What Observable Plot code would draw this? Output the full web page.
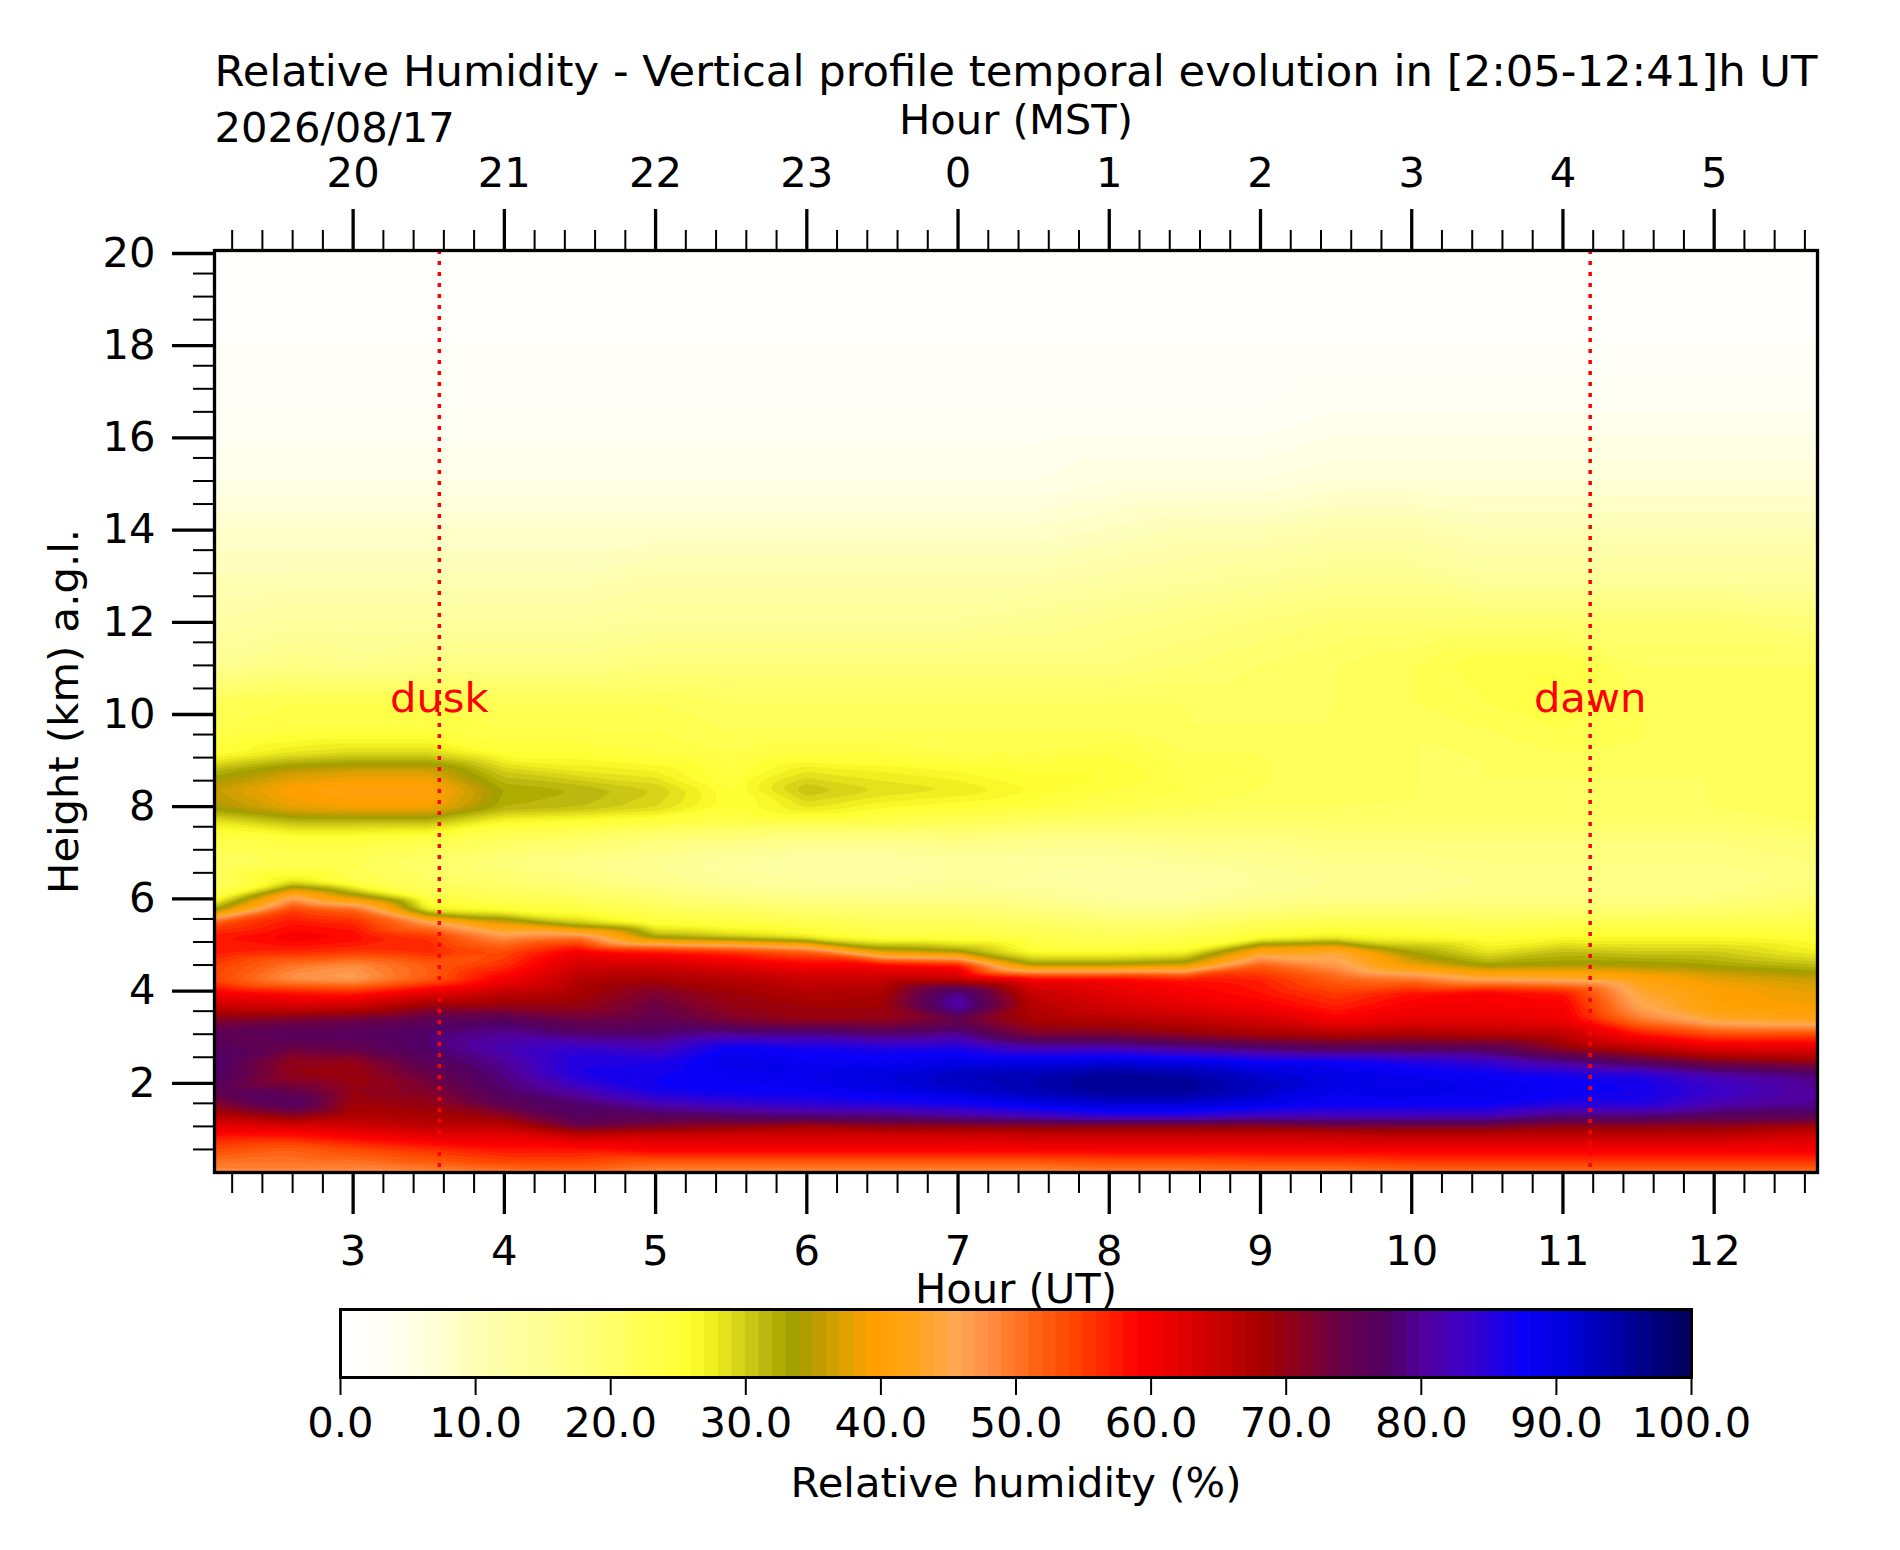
<!DOCTYPE html>
<html>
<head>
<meta charset="utf-8">
<script src="https://cdn.jsdelivr.net/npm/d3@7"></script>
<script src="https://cdn.jsdelivr.net/npm/@observablehq/plot@0.6"></script>
<style>
  body { margin: 0; background: #ffffff; }
  #chart { position: relative; width: 1900px; height: 1550px; background: #ffffff; }
  #chart svg { position: absolute; left: 0; }
</style>
</head>
<body>
<div id="chart"></div>
<script>
// ---------------- DATA ----------------
const chartTitle = "Relative Humidity - Vertical profile temporal evolution in [2:05-12:41]h UT";
const chartDate = "2026/08/17";
const xLabelBottom = "Hour (UT)";
const xLabelTop = "Hour (MST)";
const yLabel = "Height (km) a.g.l.";
const colorLabel = "Relative humidity (%)";

// time axis (UT hours) of the sampled profiles
const hoursUT = [2.0833, 2.6, 3.0, 3.5, 4.0, 4.5, 5.0, 5.5, 6.0, 6.5, 7.0, 7.5, 8.0, 8.5, 9.0, 9.5, 10.0, 10.5, 11.0, 11.5, 12.0, 12.6833];
// heights (km a.g.l.) of the sampled levels
const heightsKm = [0, 0.2, 0.5, 0.8, 1.0, 1.2, 1.5, 1.8, 2.1, 2.4, 2.7, 3.0, 3.3, 3.6, 3.9, 4.2, 4.5, 4.8, 5.1, 5.4, 5.7, 6.0, 6.3, 6.7, 7.2, 7.6, 7.9, 8.3, 8.7, 9.1, 9.6, 10.2, 11, 12, 13, 14, 15, 16.5, 18, 20];
// relative humidity (%), one row per height, one value per UT hour above
const rhRows = [
  "48 48 48 48 49 50 48 48 48 48 48 48 49 49 49 49 50 50 50 50 50 50",
  "50 50 50 52 54 54 52 52 52 52 52 52 53 53 54 54 55 55 55 55 55 55",
  "54 52 54 56 58 58 60 60 60 60 60 60 60 60 60 60 60 60 60 60 60 60",
  "58 58 60 62 62 65 64 64 64 64 64 65 65 65 65 65 66 66 66 66 66 64",
  "62 63 64 66 66 74 72 70 68 70 70 70 70 70 70 72 72 72 70 70 70 68",
  "66 70 67 68 70 77 76 77 78 78 80 82 84 84 82 82 82 82 78 78 76 76",
  "72 78 69 70 76 78 82 84 85 86 87 90 92 92 90 88 88 88 86 86 82 80",
  "76 74 70 72 78 82 87 88 88 90 92 94 96 96 93 89 90 89 88 87 84 80",
  "78 70 69 74 79 86 87 88 89 91 93 94 96 95 92 90 89 88 87 86 82 79",
  "78 70 70 76 80 86 86 90 88 88 90 90 91 90 88 88 86 84 80 76 72 70",
  "77 74 75 78 82 84 82 88 87 86 86 82 82 80 78 76 76 76 70 66 62 62",
  "76 77 77 78 80 78 78 80 80 78 80 72 72 70 68 67 68 67 66 58 54 54",
  "72 73 74 76 77 74 75 72 70 70 74 68 67 66 64 60 62 62 61 50 44 42",
  "65 64 65 70 70 70 74 70 69 69 82 67 64 62 60 57 60 60 60 46 40 39",
  "60 58 57 62 66 68 72 69 67 68 80 65 62 60 58 55 58 60 58 44 40 38",
  "54 47 46 52 60 67 68 67 65 65 65 60 60 58 57 52 50 45 44 41 38 36",
  "55 50 48 52 56 64 64 62 60 60 58 34 34 36 52 47 38 33 34 34 33 31",
  "58 57 56 57 54 60 58 56 52 36 33 25 25 26 42 44 33 28 31 30 30 27",
  "58 60 59 56 48 50 33 30 27 24 24 23 22 23 25 27 26 25 26 26 26 25",
  "54 58 57 48 38 30 25 24 23 22 22 21 20 20 22 23 23 22 23 23 23 23",
  "33 55 52 27 25 24 22 21 20 19 19 18 16 16 18 19 19 19 19 19 20 21",
  "23 45 35 23 22 21 19 17 16 16 16 15 13 13 15 16 16 17 17 17 17 19",
  "21 28 23 21 20 18 16 14 13 13 14 13 12 12 14 15 15 16 16 16 16 18",
  "21 22 22 20 18 16 15 13 12 12 13 13 13 14 15 16 16 17 17 17 17 18",
  "23 24 24 23 21 20 18 17 16 16 17 16 16 17 17 18 18 18 18 18 18 19",
  "28 31 31 31 26 25 24 23 23 23 22 21 20 20 20 20 20 20 20 20 20 21",
  "34 38 39 39 32 31 29 25 28 26 25 24 23 22 21 21 21 21 21 21 21 22",
  "36 40 41 41 33 32 30 25 31 29 28 26 24 23 22 22 21 21 21 21 21 22",
  "32 36 37 37 30 28 27 24 28 27 26 25 25 23 22 22 21 21 21 21 21 22",
  "25 28 29 29 25 25 24 23 24 24 23 23 24 22 22 22 21 21 22 22 22 22",
  "23 24 24 24 23 23 23 22 22 22 22 22 22 21 21 21 21 22 23 22 22 22",
  "22 23 23 23 22 22 22 21 21 21 21 21 21 21 21 21 22 23 24 22 22 22",
  "15 17 16 17 17 17 18 18 18 18 18 18 18 19 20 21 22 24 24 21 21 21",
  "12 13 13 13 13 13 14 14 14 14 14 15 16 17 18 19 19 19 19 19 19 18",
  "10 10 10 10 10 10 11 11 11 11 11 11 12 13 14 15 15 13 13 13 13 13",
  "8 8 8 8 8 8 8 8 8 8 8 8 9 10 10 11 11 10 10 10 10 10",
  "5 5 5 5 5 5 5 5 5 5 5 5 6 6 6 7 7 7 7 7 7 7",
  "3 3 3 3 3 3 3 3 3 3 3 3 3 3 3 4 4 4 4 4 4 4",
  "2 2 2 2 2 2 2 2 2 2 2 2 2 2 2 2 2 2 2 2 2 2",
  "1 1 1 1 1 1 1 1 1 1 1 1 1 1 1 1 1 1 1 1 1 1"
];

// dusk / dawn markers (UT hours)
const eventNames = ["dusk", "dawn"];
const eventHours = [3.57, 11.18];

// axis ticks
const xMajorTicks = [3, 4, 5, 6, 7, 8, 9, 10, 11, 12];
const yMajorTicks = [2, 4, 6, 8, 10, 12, 14, 16, 18, 20];
const colorTicks = [0, 10, 20, 30, 40, 50, 60, 70, 80, 90, 100];
const utToMstOffset = -7;

// colour map (value -> colour)
const cmapStops = [0, 3, 6, 10, 15, 20, 25, 27, 29, 31, 32, 33, 34, 35, 36, 37, 38, 39, 42, 45, 47, 49, 51, 54, 57, 58.5, 62, 65, 68, 71, 74, 77, 80, 83, 87, 90, 94, 97, 100];
const cmapColors = ["#ffffff", "#fffff4", "#ffffdc", "#ffffb2", "#ffff90", "#ffff66", "#ffff33", "#f0f020", "#d8d418", "#bcb810", "#b0ac00", "#a0a000", "#b09c00", "#c09c00", "#d0a000", "#e0a000", "#f0a000", "#ffa000", "#ffa418", "#ffa850", "#ff9448", "#ff7c2c", "#ff6414", "#ff4400", "#ff1800", "#ff0000", "#e00000", "#c40000", "#a40000", "#840028", "#64004c", "#520064", "#5000a0", "#3a00c8", "#0a00f8", "#0000e0", "#0000a8", "#00007a", "#000055"];

// ---------------- BUILD ----------------
const FONT = "DejaVu Sans";
const FS = 41.7;
const FS_TITLE = 43.3;

const samples = [];
heightsKm.forEach((h, i) => {
  const vals = rhRows[i].trim().split(/\s+/).map(Number);
  hoursUT.forEach((t, j) => samples.push({t, h, rh: vals[j]}));
});
const events = eventNames.map((name, i) => ({name, t: eventHours[i]}));

const levels = d3.range(0, 100, 1);
const xMinorTicks = d3.range(11, 64).filter(k => k % 5 !== 0).map(k => k / 5);
const yMinorTicks = d3.range(1, 40).filter(k => k % 4 !== 0).map(k => k / 2);

const colorScale = {type: "linear", domain: cmapStops, range: cmapColors, interpolate: "rgb"};

const baseStyle = {fontFamily: FONT, fontSize: FS + "px", background: "transparent", color: "black", overflow: "visible"};

const main = Plot.plot({
  width: 1900,
  height: 1550,
  marginTop: 250,
  marginLeft: 214,
  marginRight: 83,
  marginBottom: 378,
  style: baseStyle,
  x: {domain: [2.0833, 12.6833]},
  y: {domain: [0, 20]},
  color: colorScale,
  marks: [
    Plot.contour(samples, {x: "t", y: "h", fill: "rh", interpolate: "barycentric", thresholds: levels, pixelSize: 2, blur: 1, stroke: "none"}),
    Plot.text(events, {x: "t", y: () => 10, text: "name", fill: "red", fontSize: FS, lineAnchor: "bottom", textAnchor: "middle"}),
    Plot.ruleX(events, {x: "t", stroke: "red", strokeWidth: 3.5, strokeDasharray: "4,7"}),
    Plot.frame({stroke: "black", strokeWidth: 3.3}),
    Plot.axisX(xMajorTicks, {anchor: "bottom", tickSize: 42, tickPadding: 21, strokeWidth: 3.3, fontSize: FS, label: null, tickFormat: d => String(d)}),
    Plot.axisX(xMinorTicks, {anchor: "bottom", tickSize: 21, strokeWidth: 2, tickFormat: () => "", label: null}),
    Plot.axisX(xMajorTicks, {anchor: "top", tickSize: 42, tickPadding: 22, strokeWidth: 3.3, fontSize: FS, label: null, tickFormat: d => String((d + utToMstOffset + 24) % 24)}),
    Plot.axisX(xMinorTicks, {anchor: "top", tickSize: 21, strokeWidth: 2, tickFormat: () => "", label: null}),
    Plot.axisY(yMajorTicks, {anchor: "left", tickSize: 42, tickPadding: 17, strokeWidth: 3.3, fontSize: FS, label: null, dy: 3, tickFormat: d => String(d)}),
    Plot.axisY(yMinorTicks, {anchor: "left", tickSize: 21, strokeWidth: 2, tickFormat: () => "", label: null}),
    Plot.text([chartTitle], {frameAnchor: "top", dy: -165, lineAnchor: "bottom", fontSize: FS_TITLE}),
    Plot.text([chartDate], {frameAnchor: "top-left", textAnchor: "start", dy: -109, lineAnchor: "bottom", fontSize: FS}),
    Plot.text([xLabelTop], {frameAnchor: "top", dy: -117, lineAnchor: "bottom", fontSize: FS}),
    Plot.text([xLabelBottom], {frameAnchor: "bottom", dy: 130, lineAnchor: "bottom", fontSize: FS}),
    Plot.text([yLabel], {frameAnchor: "left", dx: -137, rotate: -90, lineAnchor: "bottom", textAnchor: "middle", fontSize: FS})
  ]
});
main.style.top = "0px";

const cbar = Plot.plot({
  width: 1900,
  height: 260,
  marginTop: 19,
  marginBottom: 173,
  marginLeft: 340,
  marginRight: 209,
  style: baseStyle,
  x: {domain: [0, 100]},
  color: colorScale,
  marks: [
    Plot.rect(levels, {x1: d => d, x2: d => d + 1, fill: d => d, stroke: d => d, strokeWidth: 0.8}),
    Plot.frame({stroke: "black", strokeWidth: 3}),
    Plot.axisX(colorTicks, {anchor: "bottom", tickSize: 18, tickPadding: 12, strokeWidth: 2, fontSize: FS, label: null, tickFormat: d => d.toFixed(1)}),
    Plot.text([colorLabel], {frameAnchor: "bottom", dy: 119, lineAnchor: "bottom", fontSize: FS})
  ]
});
cbar.style.top = "1290px";

const chart = document.getElementById("chart");
chart.appendChild(main);
chart.appendChild(cbar);
</script>
</body>
</html>
